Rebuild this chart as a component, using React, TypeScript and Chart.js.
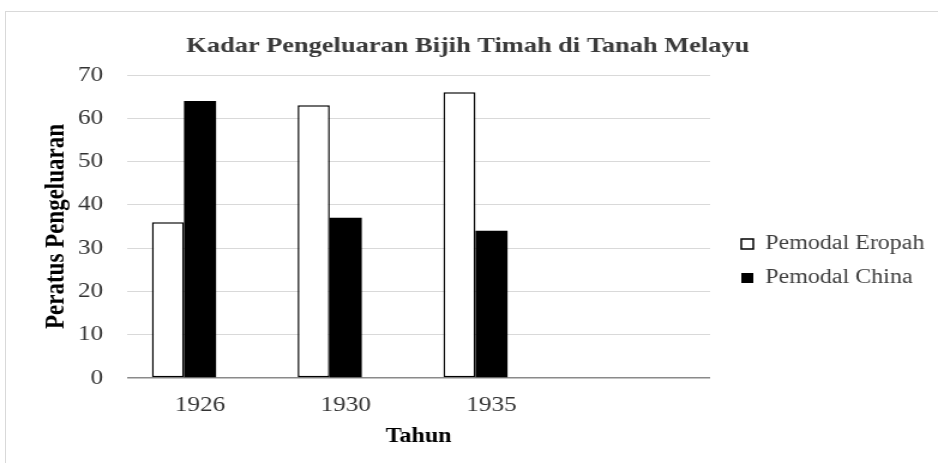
import { useEffect, useRef } from 'react';
import { Chart, registerables } from 'chart.js';

Chart.register(...registerables);

// ---- data ----
const categories = ['1926', '1930', '1935', ''];
const pemodalEropah = [36, 63, 66, null];
const pemodalChina = [64, 37, 34, null];
const blankSeries = [null, null, null, null];
const seriesNames = ['Pemodal Eropah', 'Pemodal China'];
const chartTitle = 'Kadar Pengeluaran Bijih Timah di Tanah Melayu';
const yAxisTitle = 'Peratus Pengeluaran';
const xAxisTitle = 'Tahun';
const yMin = 0;
const yMax = 70;
const yStep = 10;

// ---- layout ----
const CANVAS_W = 782;
const CANVAS_H = 463;
const STRETCH = 938 / CANVAS_W;
const FONT = "'Liberation Serif', 'Times New Roman', serif";

export default function App() {
  const ref = useRef<HTMLCanvasElement>(null);

  useEffect(() => {
    const canvas = ref.current;
    if (!canvas) return;
    const chart = new Chart(canvas, {
      type: 'bar',
      data: {
        labels: categories,
        datasets: [
          {
            label: seriesNames[0],
            data: pemodalEropah,
            backgroundColor: '#ffffff',
            borderColor: '#000000',
            borderWidth: 1.5,
            borderSkipped: false,
            categoryPercentage: 0.66,
            barPercentage: 1,
          },
          {
            label: seriesNames[1],
            data: pemodalChina,
            backgroundColor: '#000000',
            borderColor: '#000000',
            borderWidth: 0,
            borderSkipped: false,
            categoryPercentage: 0.66,
            barPercentage: 1,
          },
          {
            label: 'blank',
            data: blankSeries,
            backgroundColor: 'rgba(0,0,0,0)',
            borderWidth: 0,
            categoryPercentage: 0.66,
            barPercentage: 1,
          },
        ],
      },
      options: {
        responsive: false,
        animation: false,
        devicePixelRatio: 1,
        layout: { padding: { left: 0, right: 2, top: 0, bottom: 0 } },
        plugins: {
          title: {
            display: true,
            text: chartTitle,
            color: '#3a3a3a',
            font: { family: FONT, size: 22, weight: 'bold' },
            padding: { top: 33.5, bottom: 15.1 },
          },
          legend: {
            position: 'right',
            align: 'start',
            maxWidth: 176,
            title: { display: true, text: '', font: { size: 10 }, padding: { top: 208, bottom: 0 } },
            labels: {
              boxWidth: 10,
              boxHeight: 10,
              padding: 14,
              color: '#404040',
              font: { family: FONT, size: 20 },
              filter: (item: any) => item.datasetIndex < 2,
            },
          },
          tooltip: { enabled: false },
        },
        scales: {
          x: {
            grid: { display: false, drawTicks: false },
            border: { display: false },
            ticks: {
              color: '#333333',
              font: { family: FONT, size: 21 },
              padding: 14.4,
              maxRotation: 0,
              autoSkip: false,
            },
            title: {
              display: true,
              text: xAxisTitle,
              color: '#000000',
              font: { family: FONT, size: 20, weight: 'bold' },
              padding: { top: 0, bottom: 14.3 },
            },
            afterFit: (s: any) => {
              s.height = 85;
            },
          },
          y: {
            min: yMin,
            max: yMax,
            ticks: {
              stepSize: yStep,
              color: '#333333',
              font: { family: FONT, size: 21 },
              padding: 20,
            },
            grid: {
              drawTicks: false,
              color: (c: any) => (c.tick && c.tick.value === 0 ? '#8a8a8a' : '#d9d9d9'),
              lineWidth: (c: any) => (c.tick && c.tick.value === 0 ? 1.5 : 1),
            },
            border: { display: false },
            title: {
              display: true,
              text: yAxisTitle,
              color: '#000000',
              font: { family: FONT, size: 23, weight: 'bold' },
              padding: { top: 33, bottom: 0 },
            },
            afterFit: (s: any) => {
              s.width = 106;
            },
          },
          yr: {
            type: 'linear',
            position: 'right',
            display: true,
            grid: { display: false, drawTicks: false },
            border: { display: false },
            ticks: { display: false },
            afterFit: (s: any) => {
              s.width = 12;
            },
          },
        },
      } as any,
    });
    return () => chart.destroy();
  }, []);

  return (
    <div style={{ position: 'absolute', left: 0, top: 0, width: 938, height: 463, overflow: 'hidden', background: '#ffffff' }}>
      <div
        style={{
          position: 'absolute',
          left: 5,
          top: 11,
          width: 933,
          height: 452,
          boxSizing: 'border-box',
          borderTop: '1.5px solid #d9d9d9',
          borderLeft: '1.5px solid #d9d9d9',
        }}
      />
      <div
        style={{
          position: 'absolute',
          left: 0,
          top: 0,
          width: CANVAS_W,
          height: CANVAS_H,
          transform: `scaleX(${STRETCH})`,
          transformOrigin: '0 0',
        }}
      >
        <canvas ref={ref} width={CANVAS_W} height={CANVAS_H} style={{ display: 'block' }} />
      </div>
    </div>
  );
}
